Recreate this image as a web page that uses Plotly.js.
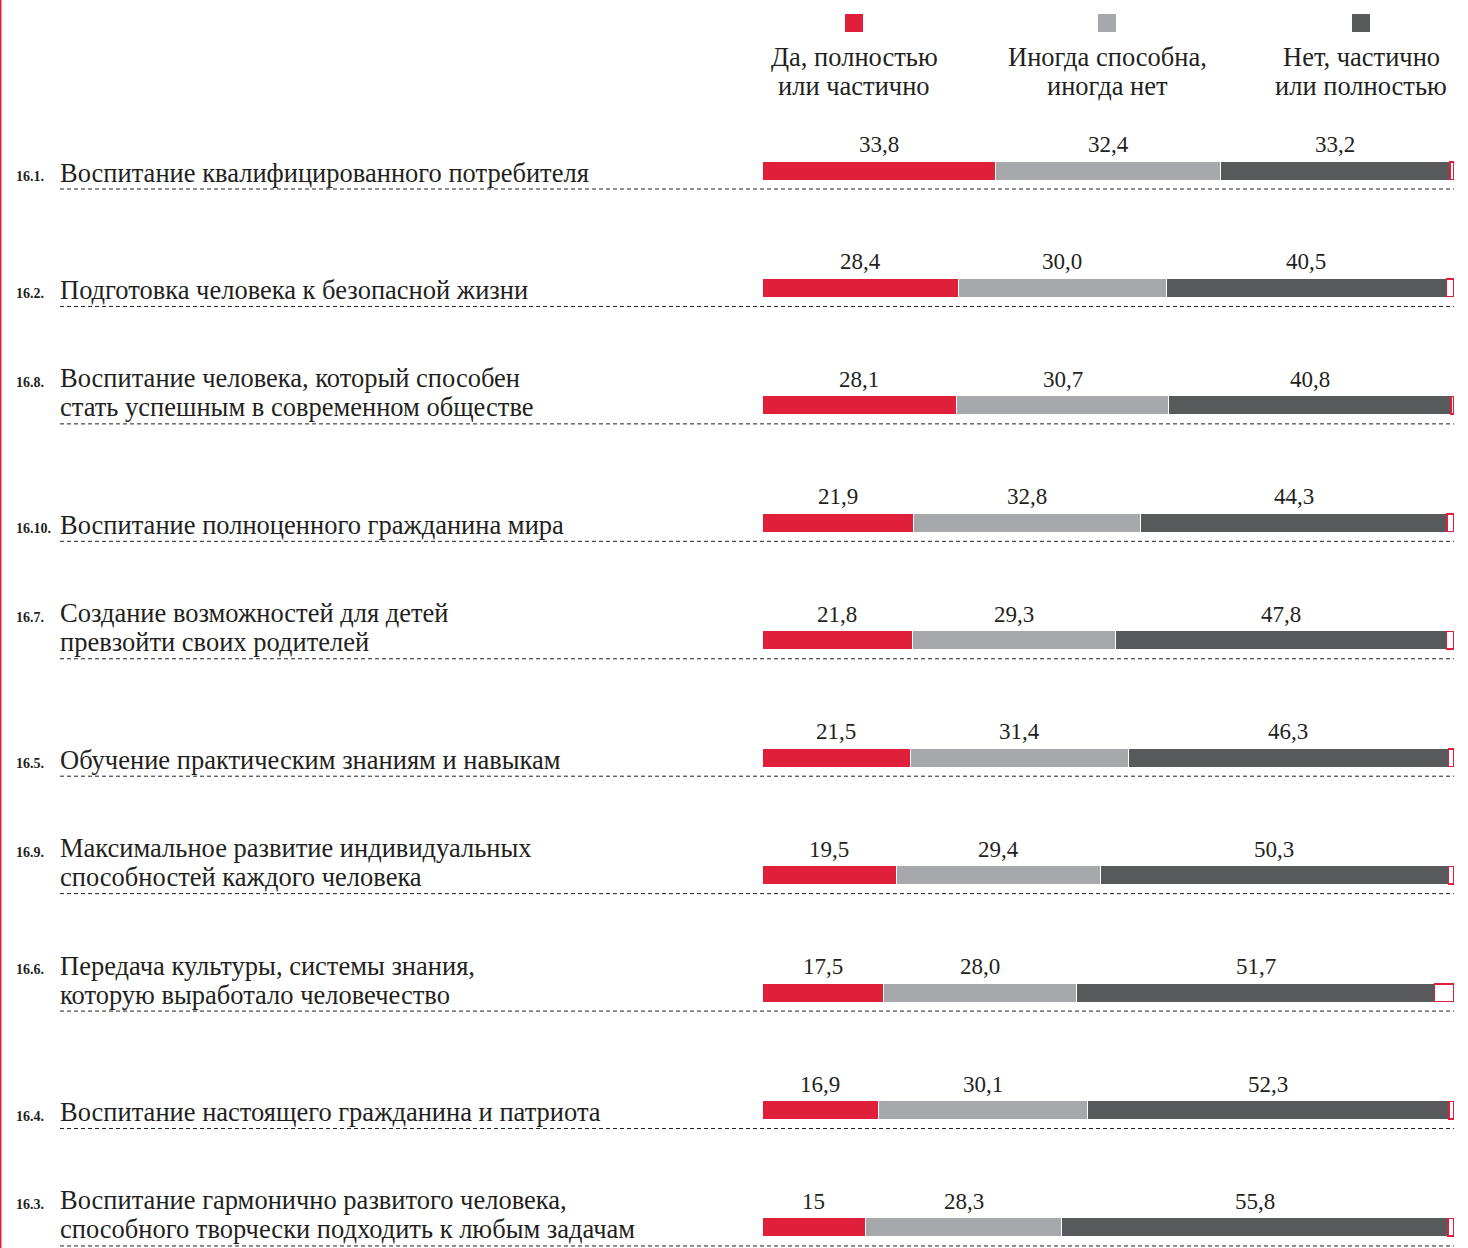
<!DOCTYPE html>
<html>
<head>
<meta charset="utf-8">
<script src="https://cdn.plot.ly/plotly-3.0.1.min.js"></script>
<style>html,body{margin:0;padding:0;background:#fff;}#chart{width:1468px;height:1248px;}</style>
</head>
<body>
<div id="chart"></div>
<script>
// ---- data ----
const categories = ['16.1.', '16.2.', '16.8.', '16.10.', '16.7.', '16.5.', '16.9.', '16.6.', '16.4.', '16.3.'];
const rowLabels = [
  'Воспитание квалифицированного потребителя',
  'Подготовка человека к безопасной жизни',
  'Воспитание человека, который способен<br>стать успешным в современном обществе',
  'Воспитание полноценного гражданина мира',
  'Создание возможностей для детей<br>превзойти своих родителей',
  'Обучение практическим знаниям и навыкам',
  'Максимальное развитие индивидуальных<br>способностей каждого человека',
  'Передача культуры, системы знания,<br>которую выработало человечество',
  'Воспитание настоящего гражданина и патриота',
  'Воспитание гармонично развитого человека,<br>способного творчески подходить к любым задачам'
];
const seriesNames = ['Да, полностью<br>или частично', 'Иногда способна,<br>иногда нет', 'Нет, частично<br>или полностью'];
const yesVals = [33.8, 28.4, 28.1, 21.9, 21.8, 21.5, 19.5, 17.5, 16.9, 15];
const sometimesVals = [32.4, 30.0, 30.7, 32.8, 29.3, 31.4, 29.4, 28.0, 30.1, 28.3];
const noVals = [33.2, 40.5, 40.8, 44.3, 47.8, 46.3, 50.3, 51.7, 52.3, 55.8];
const restVals = [0.6, 1.1, 0.4, 1.0, 1.1, 0.8, 0.8, 2.8, 0.7, 0.9];
const yesText = ['33,8', '28,4', '28,1', '21,9', '21,8', '21,5', '19,5', '17,5', '16,9', '15'];
const sometimesText = ['32,4', '30,0', '30,7', '32,8', '29,3', '31,4', '29,4', '28,0', '30,1', '28,3'];
const noText = ['33,2', '40,5', '40,8', '44,3', '47,8', '46,3', '50,3', '51,7', '52,3', '55,8'];

// ---- styling / layout helpers ----
const W = 1468, H = 1248;
const mL = 762, mR = 14, mT = 100, mB = 0;
const plotW = W - mL - mR, plotH = H - mT - mB;
const rowStep = 117.44, firstCenter = 170.5;
const yTop = -(firstCenter - mT) / rowStep;
const yBot = (H - mB - firstCenter) / rowStep;
const px2x = p => (p - mL) / plotW;
const px2y = p => (H - mB - p) / plotH;
const serif = 'Liberation Serif, Times New Roman, serif';
const ink = '#231f20';
const colors = ['#e0203a', '#a7a8ab', '#58595b'];
const barW = 19 / rowStep;

const traces = [
  {name: seriesNames[0], x: yesVals, color: colors[0]},
  {name: seriesNames[1], x: sometimesVals, color: colors[1]},
  {name: seriesNames[2], x: noVals, color: colors[2]}
].map(s => ({
  type: 'bar', orientation: 'h', y: categories, x: s.x, name: s.name,
  width: barW, marker: {color: s.color, line: {color: '#ffffff', width: 1}},
  hoverinfo: 'x+y', showlegend: false
}));
traces.push({
  type: 'bar', orientation: 'h', y: categories, x: restVals, name: 'Затрудняюсь ответить',
  width: barW - 1.5 / rowStep, marker: {color: '#ffffff', line: {color: colors[0], width: 1.5}},
  hoverinfo: 'x+y', showlegend: false
});

const annotations = [];
const shapes = [];
const textSets = [yesText, sometimesText, noText];
const valSets = [yesVals, sometimesVals, noVals];
categories.forEach((c, i) => {
  let start = 0;
  valSets.forEach((vals, k) => {
    annotations.push({
      x: start + vals[i] / 2, y: i, xref: 'x', yref: 'y', text: textSets[k][i],
      showarrow: false, yshift: 26, font: {family: serif, size: 23, color: ink}
    });
    start += vals[i];
  });
  const lines = rowLabels[i].split('<br>');
  const n = lines.length;
  lines.forEach((ln, k) => {
    annotations.push({
      x: px2x(59), y: i, xref: 'paper', yref: 'y', text: ln, xanchor: 'left', yanchor: 'middle',
      borderpad: 0, showarrow: false, yshift: -2 + 29 * (n - 1 - k), font: {family: serif, size: 26.5, color: ink}
    });
  });
  annotations.push({
    x: px2x(15), y: i, xref: 'paper', yref: 'y', text: '<b>' + c + '</b>', xanchor: 'left', yanchor: 'middle',
    borderpad: 0, showarrow: false, yshift: -2 + 29 * (n - 1) - 4, font: {family: serif, size: 14, color: ink}
  });
  shapes.push({
    type: 'line', xref: 'paper', yref: 'y', x0: px2x(60), x1: 1, y0: i + 18.5 / rowStep, y1: i + 18.5 / rowStep,
    line: {color: ink, width: 1, dash: '4px,3px'}
  });
});

// legend
const legendX = [854, 1107, 1361];
seriesNames.forEach((nm, k) => {
  shapes.push({
    type: 'rect', xref: 'paper', yref: 'paper',
    x0: px2x(legendX[k] - 9), x1: px2x(legendX[k] + 9), y0: px2y(32), y1: px2y(14),
    fillcolor: colors[k], line: {width: 0}
  });
  nm.split('<br>').forEach((ln, j) => {
    annotations.push({
      x: px2x(legendX[k]), y: px2y(57 + 29 * j), xref: 'paper', yref: 'paper', text: ln,
      xanchor: 'center', yanchor: 'middle', showarrow: false,
      font: {family: serif, size: 26.5, color: ink}
    });
  });
});

// left red rule
shapes.push({
  type: 'line', xref: 'paper', yref: 'paper', x0: px2x(0.75), x1: px2x(0.75), y0: 0, y1: 1 + mT / plotH,
  line: {color: colors[0], width: 1.5}
});

const layout = {
  width: W, height: H,
  margin: {l: mL, r: mR, t: mT, b: mB, pad: 0},
  paper_bgcolor: '#ffffff', plot_bgcolor: '#ffffff',
  barmode: 'stack', bargap: 0,
  showlegend: false,
  xaxis: {range: [0, 100], showgrid: false, zeroline: false, showticklabels: false, showline: false, fixedrange: true},
  yaxis: {type: 'category', range: [yBot, yTop], showgrid: false, zeroline: false, showticklabels: false, showline: false, fixedrange: true},
  annotations: annotations,
  shapes: shapes
};

Plotly.newPlot('chart', traces, layout, {displayModeBar: false, staticPlot: true});
</script>
</body>
</html>
